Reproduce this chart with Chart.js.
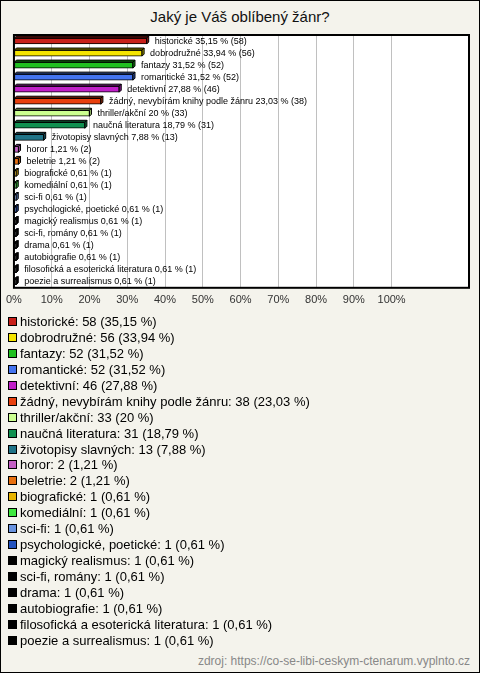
<!DOCTYPE html>
<html><head><meta charset="utf-8">
<script src="https://cdn.jsdelivr.net/npm/chart.js@4/dist/chart.umd.min.js"></script>
<style>
html,body{margin:0;padding:0;}
body{width:480px;height:673px;background:#f4f3ec;position:relative;overflow:hidden;font-family:"Liberation Sans",Arial,sans-serif;}
#frame{position:absolute;left:0;top:0;width:478px;height:671px;border:1px solid #000;}
#title{position:absolute;left:0;top:8px;width:480px;text-align:center;font-size:15px;color:#111;}
#wrap{position:absolute;left:0;top:30px;width:480px;height:289px;}
#legend{position:absolute;left:8px;top:314px;font-size:13px;color:#000;}
.li{height:15.95px;line-height:15.95px;white-space:nowrap;}
.sq{display:inline-block;width:7px;height:7px;border:1px solid #000;margin-right:3px;vertical-align:0px;}
#src{position:absolute;right:10px;top:654px;font-size:12px;color:#888;}
</style></head>
<body>
<div id="frame"></div>
<div id="title">Jaký je Váš oblíbený žánr?</div>
<div id="wrap"><canvas id="c" width="480" height="289"></canvas></div>
<div id="legend"></div>
<div id="src">zdroj: https://co-se-libi-ceskym-ctenarum.vyplnto.cz</div>
<script>
const categories = ["historické","dobrodružné","fantazy","romantické","detektivní","žádný, nevybírám knihy podle žánru","thriller/akční","naučná literatura","životopisy slavných","horor","beletrie","biografické","komediální","sci-fi","psychologické, poetické","magický realismus","sci-fi, romány","drama","autobiografie","filosofická a esoterická literatura","poezie a surrealismus"];
const counts = [58,56,52,52,46,38,33,31,13,2,2,1,1,1,1,1,1,1,1,1,1];
const percents = [35.15,33.94,31.52,31.52,27.88,23.03,20,18.79,7.88,1.21,1.21,0.61,0.61,0.61,0.61,0.61,0.61,0.61,0.61,0.61,0.61];
const colors = ["#c8201a","#f4e400","#20c020","#4474ee","#c020c8","#e8400e","#ccff90","#109050","#207488","#c460c4","#e87010","#e8b400","#40e840","#6a94e0","#2454c0","#000000","#000000","#000000","#000000","#000000","#000000"];
const tickLabels = ["0%","10%","20%","30%","40%","50%","60%","70%","80%","90%","100%"];

const fmt = v => String(v).replace('.', ',');

// legend
const lg = document.getElementById('legend');
categories.forEach((c,i)=>{
  const d = document.createElement('div'); d.className='li';
  const s = document.createElement('span'); s.className='sq'; s.style.background=colors[i];
  d.appendChild(s);
  d.appendChild(document.createTextNode(c + ': ' + counts[i] + ' (' + fmt(percents[i]) + ' %)'));
  lg.appendChild(d);
});

function darken(hex, f){
  const n=parseInt(hex.slice(1),16);
  const r=Math.round(((n>>16)&255)*f), g=Math.round(((n>>8)&255)*f), b=Math.round((n&255)*f);
  return 'rgb('+r+','+g+','+b+')';
}

const boxPlugin = {
  id:'box',
  beforeDraw(chart){
    const a=chart.chartArea, ctx=chart.ctx;
    ctx.save(); ctx.fillStyle='#fff'; ctx.fillRect(a.left,a.top,a.right-a.left,a.bottom-a.top); ctx.restore();
  },
  afterDatasetsDraw(chart){
    const ctx=chart.ctx, meta=chart.getDatasetMeta(0), d=2;
    ctx.save();
    meta.data.forEach((el,i)=>{
      const p=el.getProps(['x','y','base','height'],true);
      const top=p.y-p.height/2, bot=p.y+p.height/2;
      ctx.lineWidth=1; ctx.strokeStyle='#000';
      ctx.fillStyle=darken(colors[i],0.55);
      ctx.beginPath();
      ctx.moveTo(p.base,top); ctx.lineTo(p.base+d,top-d); ctx.lineTo(p.x+d,top-d); ctx.lineTo(p.x,top); ctx.closePath();
      ctx.fill(); ctx.stroke();
      ctx.fillStyle=darken(colors[i],0.7);
      ctx.beginPath();
      ctx.moveTo(p.x,top); ctx.lineTo(p.x+d,top-d); ctx.lineTo(p.x+d,bot-d); ctx.lineTo(p.x,bot); ctx.closePath();
      ctx.fill(); ctx.stroke();
      ctx.fillStyle='#000'; ctx.font='9px "Liberation Sans", Arial, sans-serif';
      ctx.textBaseline='middle'; ctx.textAlign='left';
      ctx.fillText(categories[i]+' '+fmt(percents[i])+' % ('+counts[i]+')', p.x+d+6, p.y);
    });
    const a=chart.chartArea;
    ctx.lineWidth=2; ctx.strokeStyle='#000';
    ctx.strokeRect(a.left,a.top,a.right-a.left,a.bottom-a.top);
    ctx.restore();
  }
};

new Chart(document.getElementById('c'),{
  type:'bar',
  data:{labels:categories,datasets:[{data:percents,backgroundColor:colors,borderColor:'#000',borderWidth:1,barThickness:6,borderSkipped:false}]},
  options:{
    indexAxis:'y',responsive:false,animation:false,
    layout:{padding:{left:11,right:11,top:5,bottom:6}},
    plugins:{legend:{display:false},tooltip:{enabled:false}},
    scales:{
      y:{display:false},
      x:{min:0,max:120.5,
        border:{display:false},
        grid:{drawTicks:false,color:c=>(c.tick && c.tick.value>0 && c.tick.value<=100)?'#c0c0c0':'rgba(0,0,0,0)',lineWidth:1},
        ticks:{stepSize:10,padding:6,color:'#333',font:{size:11,family:'"Liberation Sans", Arial, sans-serif'},
          autoSkip:false,maxRotation:0,
          callback:(v)=>{const i=Math.round(v/10); return (v%10===0 && i<tickLabels.length)?tickLabels[i]:'';}}
      }
    }
  },
  plugins:[boxPlugin]
});
</script>
</body></html>
